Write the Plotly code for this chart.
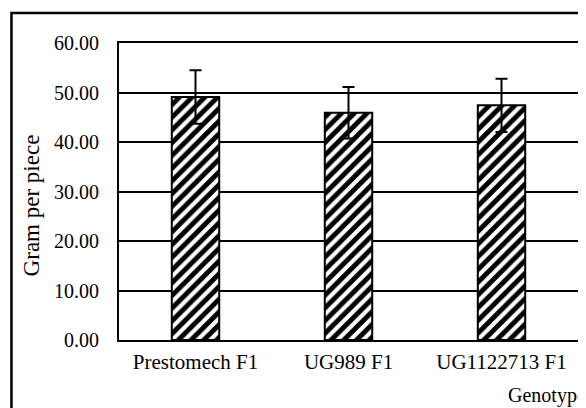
import plotly.graph_objects as go

genotypes = ["Prestomech F1", "UG989 F1", "UG1122713 F1"]
gram_per_piece = [49.1, 45.9, 47.4]
std_error = [5.4, 5.2, 5.4]
y_ticks = [0, 10, 20, 30, 40, 50, 60]
y_tick_labels = ["0.00", "10.00", "20.00", "30.00", "40.00", "50.00", "60.00"]

FONT = "Liberation Serif, Times New Roman, serif"

# page body has an 8px default margin; compensate in the figure geometry
OFF = 8
L, T = 119 - OFF, 43 - OFF
PW, PH = 461, 297

fig = go.Figure()
fig.add_trace(go.Bar(
    x=genotypes,
    y=gram_per_piece,
    width=0.31,
    marker=dict(
        color="white",
        line=dict(color="black", width=2),
        pattern=dict(shape="/", fgcolor="black", bgcolor="white", fgopacity=1,
                     size=9, solidity=0.55),
    ),
    error_y=dict(type="data", array=std_error, visible=True, color="black", thickness=2, width=6),
))

fig.update_layout(
    width=586 - OFF, height=408 - OFF,
    margin=dict(l=L, r=586 - OFF - L - PW, t=T, b=408 - OFF - T - PH),
    paper_bgcolor="white", plot_bgcolor="white",
    showlegend=False,
    font=dict(family=FONT, size=20, color="black"),
)
fig.update_xaxes(
    showline=True, linecolor="black", linewidth=2, mirror=True,
    showgrid=False, ticks="", ticklabelstandoff=2,
    tickfont=dict(family=FONT, size=21, color="black"),
)
fig.update_yaxes(
    range=[0, 60], tickvals=y_ticks, ticktext=y_tick_labels,
    showline=True, linecolor="black", linewidth=2, mirror=True,
    showgrid=True, gridcolor="black", gridwidth=2,
    zeroline=False, ticks="", ticklabelstandoff=14,
    tickfont=dict(family=FONT, size=20, color="black"),
)
# outer chart border
fig.add_shape(type="rect", xref="paper", yref="paper",
              x0=(11 - 119) / PW, x1=(600 - 119) / PW,
              y0=(340 - 420) / PH, y1=(340 - 13) / PH,
              line=dict(color="black", width=2.5), fillcolor="rgba(0,0,0,0)", layer="below")
fig.add_annotation(text="Gram per piece", textangle=-90, xref="paper", yref="paper",
                   x=(31 - 119) / PW, y=(340 - 205) / PH, showarrow=False,
                   xanchor="center", yanchor="middle",
                   font=dict(family=FONT, size=23, color="black"))
fig.add_annotation(text="Genotype", xref="paper", yref="paper",
                   x=(508 - 119) / PW, y=(340 - 395) / PH, showarrow=False,
                   xanchor="left", yanchor="middle",
                   font=dict(family=FONT, size=20, color="black"))

fig.write_html("out.html")
